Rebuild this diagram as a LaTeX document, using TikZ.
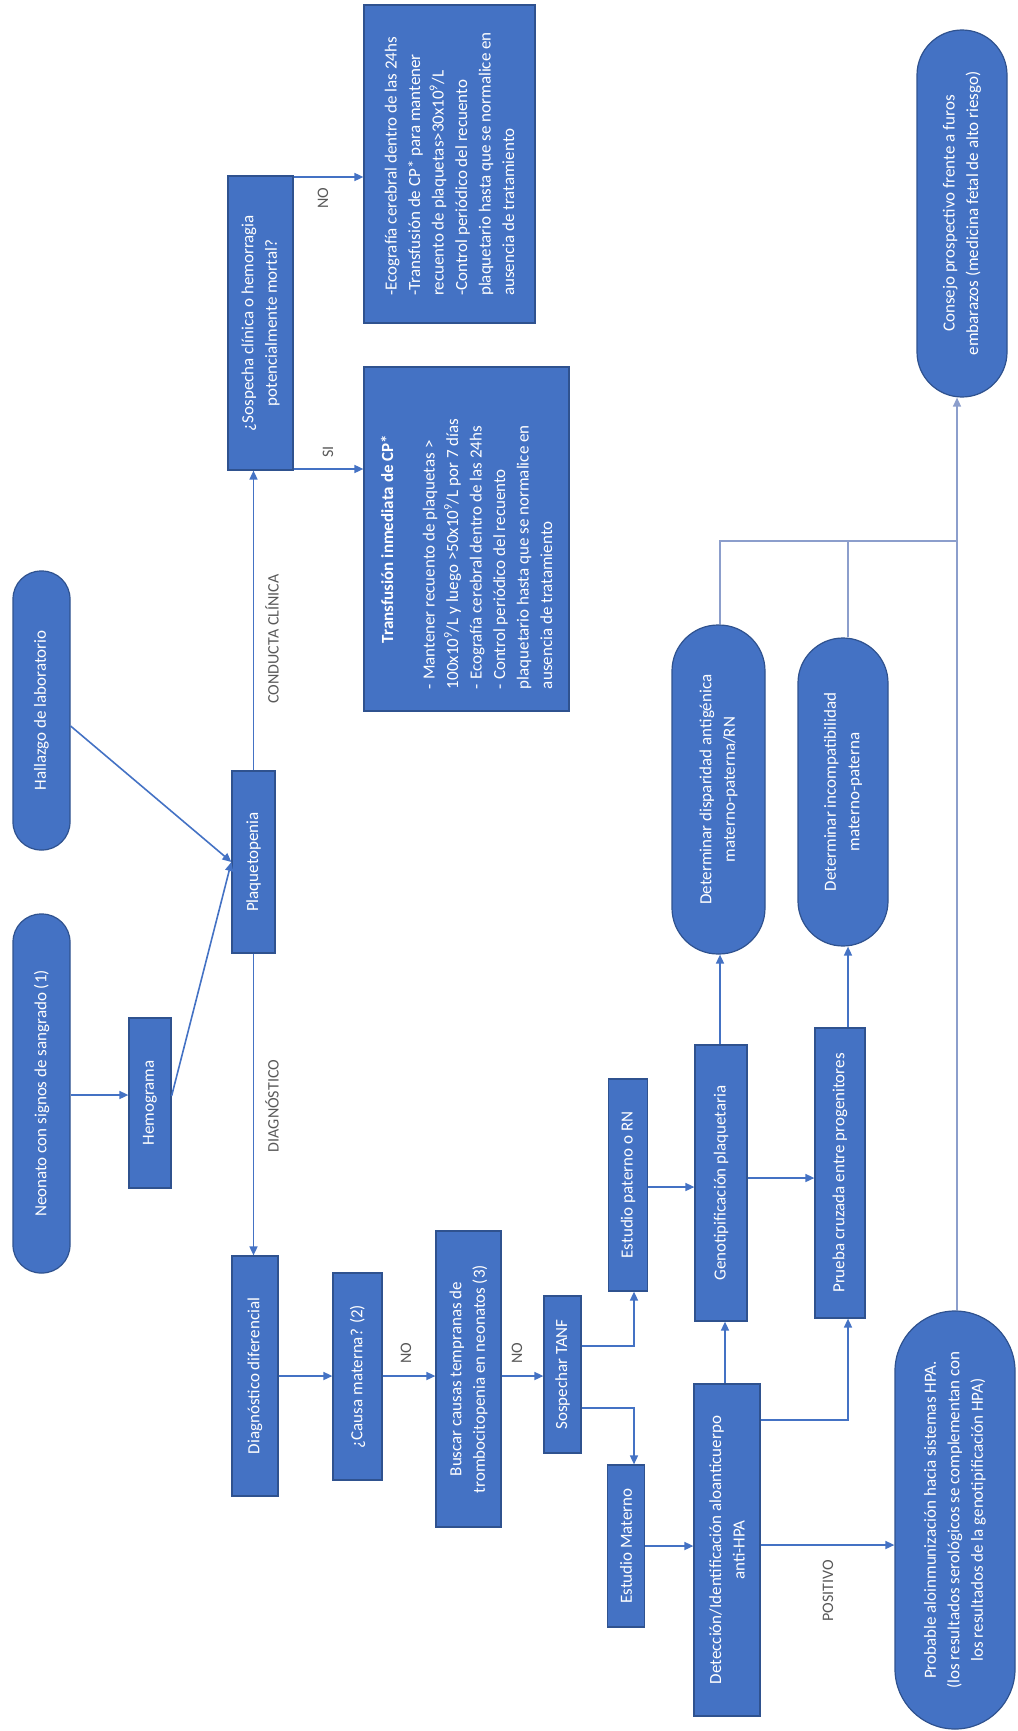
\documentclass[tikz,border=0pt]{standalone}
\usepackage{fontspec}
\setmainfont{Carlito}
\usetikzlibrary{arrows.meta}
\definecolor{boxblue}{RGB}{68,114,196}
\definecolor{boxedge}{RGB}{47,82,143}
\definecolor{lbl}{RGB}{89,89,89}
\definecolor{junc}{RGB}{140,158,204}
\begin{document}
\begin{tikzpicture}[x=1pt,y=-1pt,
  box/.style={draw=boxedge, line width=1.2pt, fill=boxblue, text=white, rotate=90, inner sep=2pt, align=center, font=\fontsize{17}{23.5}\selectfont},
  pill/.style={box, rounded corners=#1},
  conn/.style={draw=boxblue, line width=1.6pt, -{Triangle[length=9pt,width=8pt]}},
  jline/.style={draw=junc, line width=1.4pt},
  lab/.style={text=lbl, rotate=90, font=\fontsize{16}{20}\selectfont, inner sep=0pt},
]
\useasboundingbox (0,0) rectangle (1017,1731);

% nodes
\node[pill=28pt, minimum width=359pt, minimum height=57pt] (neo) at (41.5,1093.5) {Neonato con signos de sangrado (1)};
\node[pill=28pt, minimum width=279pt, minimum height=57pt] (hall) at (41.5,710.5) {Hallazgo de laboratorio};
\node[box, minimum width=170pt, minimum height=42pt] (hemo) at (150,1103) {Hemograma};
\node[box, minimum width=182pt, minimum height=43pt] (plaq) at (253.5,862) {Plaquetopenia};
\node[box, minimum width=294pt, minimum height=65pt] (sosp) at (260.5,323) {¿Sospecha clínica o hemorragia\\potencialmente mortal?};
\node[box, minimum width=344pt, minimum height=205pt, text width=300pt, align=flush left] (si) at (466.5,539) {\makebox[300pt][c]{\bfseries Transfusión inmediata de CP*}\\[18pt]- Mantener recuento de plaquetas >\\100x10\textsuperscript{9}/L y luego >50x10\textsuperscript{9}/L por 7 días\\- Ecografía cerebral dentro de las 24hs\\- Control periódico del recuento\\plaquetario hasta que se normalice en\\ausencia de tratamiento};
\node[box, minimum width=318pt, minimum height=171pt, align=left] (no) at (449.5,164) {-Ecografía cerebral dentro de las 24hs\\-Transfusión de CP* para mantener\\recuento de plaquetas>30x10\textsuperscript{9}/L\\-Control periódico del recuento\\plaquetario hasta que se normalice en\\ausencia de tratamiento};
\node[pill=45pt, minimum width=367pt, minimum height=90pt] (cons) at (962,213.5) {Consejo prospectivo frente a furos\\embarazos (medicina fetal de alto riesgo)};
\node[box, minimum width=240pt, minimum height=46pt] (dd) at (255,1376) {Diagnóstico diferencial};
\node[box, minimum width=207pt, minimum height=49pt] (causa) at (357.5,1376.5) {¿Causa materna? (2)};
\node[box, minimum width=296pt, minimum height=65pt] (buscar) at (468.5,1379) {Buscar causas tempranas de\\trombocitopenia en neonatos (3)};
\node[box, minimum width=157pt, minimum height=37pt] (tanf) at (562.5,1374.5) {Sospechar TANF};
\node[box, minimum width=212pt, minimum height=39pt] (pat) at (628,1185) {Estudio paterno o RN};
\node[box, minimum width=162pt, minimum height=37pt] (mat) at (626,1546) {Estudio Materno};
\node[box, minimum width=332pt, minimum height=66pt] (det) at (727,1550) {Detección/Identificación aloanticuerpo\\anti-HPA};
\node[box, minimum width=276pt, minimum height=52pt] (geno) at (721,1183) {Genotipificación plaquetaria};
\node[box, minimum width=290pt, minimum height=50pt] (prueba) at (840,1173) {Prueba cruzada entre progenitores};
\node[pill=46pt, minimum width=329pt, minimum height=93pt] (disp) at (718.5,789.5) {Determinar disparidad antigénica\\materno-paterna/RN};
\node[pill=45pt, minimum width=308pt, minimum height=90pt] (incomp) at (843,792) {Determinar incompatibilidad\\materno-paterna};
\node[pill=60pt, minimum width=418pt, minimum height=120pt] (prob) at (955,1520) {Probable aloinmunización hacia sistemas HPA.\\(los resultados serológicos se complementan con\\los resultados de la genotipificación HPA)};

% labels
\node[lab] (lcc) at (272,639) {CONDUCTA CLÍNICA};
\node[lab] (ldiag) at (272,1106) {DIAGNÓSTICO};
\node[lab] (lsi) at (328,452) {SI};
\node[lab] (lno1) at (323,198) {NO};
\node[lab] (lno2) at (406,1353) {NO};
\node[lab] (lno3) at (517,1353) {NO};
\node[lab] (lpos) at (828,1591) {POSITIVO};

% connectors
\draw[conn] (neo.south |- 0,1095) -- (hemo.north |- 0,1095);
\draw[conn] (hemo.south |- 0,1096) -- (plaq.north);
\draw[conn] (hall.south |- 0,726) -- (plaq.north);
\draw[conn] (plaq.east) -- (plaq.east |- sosp.west);
\draw[conn] (sosp.south |- 0,177) -- (no.north |- 0,177);
\draw[conn] (sosp.south |- 0,469) -- (si.north |- 0,469);
\draw[conn] (plaq.west) -- (plaq.west |- dd.east);
\draw[conn] (dd.south |- 0,1376) -- (causa.north |- 0,1376);
\draw[conn] (causa.south |- 0,1376) -- (buscar.north |- 0,1376);
\draw[conn] (buscar.south |- 0,1376) -- (tanf.north |- 0,1376);
\draw[conn] (tanf.south |- 0,1346) -| (pat.west -| 634,0);
\draw[conn] (tanf.south |- 0,1408) -| (mat.east -| 634,0);
\draw[conn] (mat.south |- 0,1546) -- (det.north |- 0,1546);
\draw[conn] (pat.south |- 0,1187) -- (geno.north |- 0,1187);
\draw[conn] (det.east -| 725,0) -- (geno.west -| 725,0);
\draw[conn] (det.south |- 0,1420) -| (prueba.west -| 848,0);
\draw[conn] (det.south |- 0,1545) -- (prob.north |- 0,1545);
\draw[conn] (geno.south |- 0,1178) -- (prueba.north |- 0,1178);
\draw[conn] (geno.east -| 720,0) -- (disp.west -| 720,0);
\draw[conn] (prueba.east -| 848,0) -- (incomp.west -| 848,0);

% junction lines
\coordinate (jn) at (957,541);
\coordinate (jd) at (720,541);
\coordinate (jm) at (848,541);
\draw[jline] (disp.east -| jd) -- (jd) -- (jn);
\draw[jline] (incomp.east -| jm) -- (jm);
\draw[jline, -{Triangle[length=9pt,width=8pt]}] (prob.east -| jn) -- (cons.west -| jn);
\end{tikzpicture}
\end{document}
